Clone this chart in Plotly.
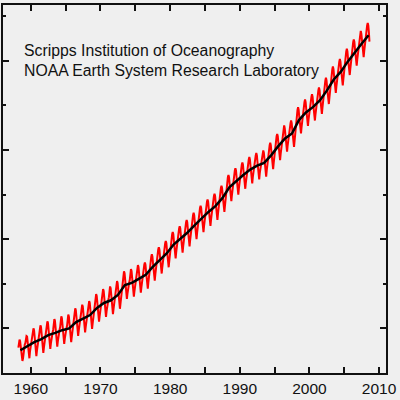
import plotly.graph_objects as go

# Monthly mean CO2 (ppm) at Mauna Loa (Mar 1958 .. Aug 2008)
first_year = 1958
first_month = 3

co2_1950s = [
    [315.7, 317.5, 317.5, 317.1, 315.9, 314.9, 313.2, 312.7, 313.3, 314.7],
    [315.6, 316.4, 316.7, 317.7, 318.3, 318.2, 316.5, 314.8, 313.8, 313.3, 314.8, 315.6],
]
co2_1960s = [
    [316.4, 317.0, 317.6, 319.0, 320.0, 319.6, 318.2, 315.9, 314.2, 313.8, 315.0, 316.2],
    [317.1, 317.7, 318.3, 319.7, 320.7, 320.3, 318.9, 316.6, 314.8, 314.5, 315.7, 316.9],
    [318.0, 318.6, 319.2, 320.6, 321.6, 321.2, 319.8, 317.5, 315.7, 315.4, 316.6, 317.8],
    [318.5, 319.1, 319.7, 321.1, 322.1, 321.7, 320.3, 318.0, 316.2, 315.9, 317.1, 318.3],
    [319.1, 319.7, 320.3, 321.7, 322.7, 322.3, 320.9, 318.6, 316.8, 316.5, 317.7, 318.9],
    [319.5, 320.1, 320.7, 322.1, 323.1, 322.7, 321.3, 319.0, 317.2, 316.9, 318.1, 319.3],
    [320.9, 321.5, 322.1, 323.5, 324.5, 324.1, 322.7, 320.4, 318.6, 318.3, 319.5, 320.7],
    [321.7, 322.3, 322.9, 324.3, 325.3, 324.9, 323.5, 321.2, 319.4, 319.1, 320.3, 321.5],
    [322.5, 323.1, 323.7, 325.1, 326.1, 325.7, 324.3, 322.0, 320.2, 319.9, 321.1, 322.3],
    [324.1, 324.7, 325.3, 326.7, 327.7, 327.3, 325.9, 323.6, 321.8, 321.5, 322.7, 323.9],
]
co2_1970s = [
    [325.2, 325.8, 326.4, 327.8, 328.8, 328.4, 327.0, 324.7, 322.9, 322.6, 323.8, 325.0],
    [325.8, 326.4, 327.0, 328.4, 329.4, 329.0, 327.6, 325.3, 323.5, 323.2, 324.4, 325.6],
    [327.0, 327.6, 328.2, 329.6, 330.6, 330.2, 328.8, 326.5, 324.7, 324.4, 325.6, 326.8],
    [328.7, 329.5, 330.4, 331.8, 332.8, 332.4, 331.0, 328.7, 326.9, 326.6, 327.8, 329.0],
    [329.7, 330.3, 330.9, 332.3, 333.3, 332.9, 331.5, 329.2, 327.4, 327.1, 328.3, 329.5],
    [330.6, 331.2, 331.8, 333.2, 334.2, 333.8, 332.4, 330.1, 328.3, 328.0, 329.2, 330.4],
    [331.7, 332.3, 333.1, 334.3, 334.8, 334.3, 332.8, 330.7, 329.0, 328.9, 330.3, 331.6],
    [333.5, 334.1, 334.9, 336.1, 336.6, 336.1, 334.6, 332.5, 330.8, 330.7, 332.1, 333.4],
    [335.1, 335.7, 336.5, 337.7, 338.2, 337.7, 336.2, 334.1, 332.4, 332.3, 333.7, 335.0],
    [336.5, 337.1, 337.9, 339.1, 339.6, 339.1, 337.6, 335.5, 333.8, 333.7, 335.1, 336.4],
]
co2_1980s = [
    [338.5, 339.1, 339.9, 341.1, 341.6, 341.1, 339.6, 337.5, 335.8, 335.7, 337.1, 338.4],
    [339.8, 340.4, 341.2, 342.4, 342.9, 342.4, 340.9, 338.8, 337.1, 337.0, 338.4, 339.7],
    [341.2, 341.8, 342.6, 343.8, 344.3, 343.8, 342.3, 340.2, 338.5, 338.4, 339.8, 341.1],
    [342.8, 343.4, 344.2, 345.4, 345.9, 345.4, 343.9, 341.8, 340.1, 340.0, 341.4, 342.7],
    [344.4, 345.0, 345.8, 347.0, 347.5, 347.0, 345.5, 343.4, 341.7, 341.6, 343.0, 344.3],
    [345.8, 346.4, 347.2, 348.4, 348.9, 348.4, 346.9, 344.8, 343.1, 343.0, 344.4, 345.7],
    [347.1, 347.7, 348.5, 349.7, 350.2, 349.7, 348.2, 346.1, 344.4, 344.3, 345.7, 347.0],
    [348.9, 349.5, 350.3, 351.5, 352.0, 351.5, 350.0, 347.9, 346.2, 346.1, 347.5, 348.8],
    [351.3, 351.9, 352.7, 353.9, 354.4, 353.9, 352.4, 350.3, 348.6, 348.5, 349.9, 351.2],
    [352.8, 353.4, 354.2, 355.4, 355.9, 355.4, 353.9, 351.8, 350.1, 350.0, 351.4, 352.7],
]
co2_1990s = [
    [354.1, 354.7, 355.5, 356.7, 357.2, 356.7, 355.2, 353.1, 351.4, 351.3, 352.7, 354.0],
    [355.3, 355.9, 356.7, 357.9, 358.4, 357.9, 356.4, 354.3, 352.6, 352.5, 353.9, 355.2],
    [356.2, 356.8, 357.6, 358.8, 359.3, 358.8, 357.3, 355.2, 353.5, 353.4, 354.8, 356.1],
    [356.8, 357.4, 358.2, 359.4, 359.9, 359.4, 357.9, 355.8, 354.1, 354.0, 355.4, 356.7],
    [358.5, 359.1, 359.9, 361.1, 361.6, 361.1, 359.6, 357.5, 355.8, 355.7, 357.1, 358.4],
    [360.5, 361.1, 361.9, 363.1, 363.6, 363.1, 361.6, 359.5, 357.8, 357.7, 359.1, 360.4],
    [362.0, 362.7, 363.6, 364.9, 365.5, 364.9, 363.4, 361.3, 359.7, 359.6, 361.0, 362.3],
    [363.1, 363.8, 364.7, 366.0, 366.6, 366.0, 364.5, 362.4, 360.8, 360.7, 362.1, 363.4],
    [366.1, 366.8, 367.7, 369.0, 369.6, 369.0, 367.5, 365.4, 363.8, 363.7, 365.1, 366.4],
    [367.8, 368.5, 369.4, 370.7, 371.3, 370.7, 369.2, 367.1, 365.5, 365.4, 366.8, 368.1],
]
co2_2000s = [
    [369.0, 369.7, 370.6, 371.9, 372.5, 371.9, 370.4, 368.3, 366.7, 366.6, 368.0, 369.3],
    [370.5, 371.2, 372.1, 373.4, 374.0, 373.4, 371.9, 369.8, 368.2, 368.1, 369.5, 370.8],
    [372.7, 373.4, 374.3, 375.6, 376.2, 375.6, 374.1, 372.0, 370.4, 370.3, 371.7, 373.0],
    [375.2, 375.9, 376.8, 378.1, 378.7, 378.1, 376.6, 374.5, 372.9, 372.8, 374.2, 375.5],
    [376.9, 377.6, 378.5, 379.8, 380.4, 379.8, 378.3, 376.2, 374.6, 374.5, 375.9, 377.2],
    [379.2, 379.9, 380.8, 382.1, 382.7, 382.1, 380.6, 378.5, 376.9, 376.8, 378.2, 379.5],
    [381.3, 382.0, 382.9, 384.2, 384.8, 384.2, 382.7, 380.6, 379.0, 378.9, 380.3, 381.6],
    [383.2, 383.9, 384.8, 386.1, 386.7, 386.1, 384.6, 382.5, 380.9, 380.8, 382.2, 383.5],
    [385.0, 385.7, 386.6, 387.9, 388.5, 387.9, 386.4, 384.3],
]

# Seasonally adjusted trend (annual means, ppm)
trend_years = list(range(1958, 2009))
trend_ppm = [
    315.1, 316.0, 316.9, 317.6, 318.5, 319.0, 319.6, 320.0, 321.4, 322.2,
    323.0, 324.6, 325.7, 326.3, 327.5, 329.7, 330.2, 331.1, 332.0, 333.8,
    335.4, 336.8, 338.8, 340.1, 341.5, 343.1, 344.7, 346.1, 347.4, 349.2,
    351.6, 353.1, 354.4, 355.6, 356.5, 357.1, 358.8, 360.8, 362.6, 363.7,
    366.7, 368.4, 369.6, 371.1, 373.3, 375.8, 377.5, 379.8, 381.9, 383.8,
    385.7,
]

# x tick labels
x_tickvals = [1960, 1970, 1980, 1990, 2000, 2010]
x_ticktext = ["1960", "1970", "1980", "1990", "2000", "2010"]

title_lines = ["Scripps Institution of Oceanography",
               "NOAA Earth System Research Laboratory"]

# Build monthly series
mx, my = [], []
year = first_year
month = first_month
for decade in (co2_1950s, co2_1960s, co2_1970s, co2_1980s, co2_1990s, co2_2000s):
    for row in decade:
        for v in row:
            mx.append(year + (month - 0.5) / 12.0)
            my.append(v)
            month += 1
        year += 1
        month = 1

tx = [y + 0.5 for y in trend_years]

FONT = "Liberation Sans, Arial, Helvetica, sans-serif"
BG = "#efefef"
INK = "#111111"

fig = go.Figure()
fig.add_trace(go.Scatter(x=mx, y=my, mode="lines",
                         line=dict(color="#ff0000", width=2), hoverinfo="skip"))
fig.add_trace(go.Scatter(x=tx, y=trend_ppm, mode="lines",
                         line=dict(color="#000000", width=2.5), hoverinfo="skip"))

fig.add_annotation(text=title_lines[0], xref="paper", yref="paper",
                   x=0.05, y=0.876, xanchor="left", yanchor="middle",
                   showarrow=False, font=dict(family=FONT, size=15.8, color=INK))
fig.add_annotation(text=title_lines[1], xref="paper", yref="paper",
                   x=0.05, y=0.823, xanchor="left", yanchor="middle",
                   showarrow=False, font=dict(family=FONT, size=15.8, color=INK))

fig.update_layout(
    width=400, height=400,
    margin=dict(l=3, r=10, t=3, b=25, pad=0),
    paper_bgcolor=BG, plot_bgcolor=BG,
    showlegend=False,
    font=dict(family=FONT, size=15.5, color=INK),
)
fig.update_xaxes(
    range=[1956, 2011], tickmode="array", tickvals=x_tickvals, ticktext=x_ticktext,
    ticks="inside", ticklen=6, tickwidth=1.5, tickcolor=INK,
    showline=True, linecolor=INK, linewidth=2, mirror="ticks",
    showgrid=False, zeroline=False, ticklabeloverflow="allow",
    tickfont=dict(family=FONT, size=15.5, color=INK),
    minor=dict(dtick=5, tick0=1955, ticks="inside", ticklen=6, tickwidth=1.5,
               tickcolor=INK, showgrid=False),
)
fig.update_yaxes(
    range=[310, 392.5], tick0=320, dtick=20,
    ticks="inside", ticklen=6, tickwidth=1.5, tickcolor=INK,
    showline=True, linecolor=INK, linewidth=2, mirror="ticks",
    showgrid=False, zeroline=False, showticklabels=False,
    minor=dict(dtick=10, tick0=310, ticks="inside", ticklen=3, tickwidth=1.5,
               tickcolor=INK, showgrid=False),
)

fig.write_html("out.html", config={"displayModeBar": False},
               post_script="document.body.style.margin='0';")
